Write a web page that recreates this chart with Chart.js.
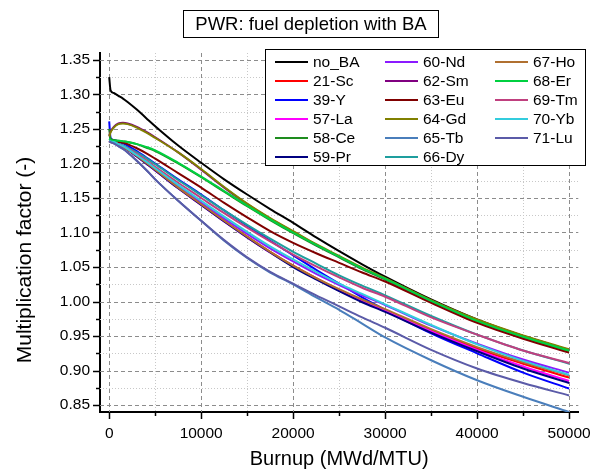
<!DOCTYPE html>
<html>
<head>
<meta charset="utf-8">
<script src="https://cdn.jsdelivr.net/npm/chart.js@4/dist/chart.umd.min.js"></script>
<style>
  html, body { margin: 0; padding: 0; background: #fff; }
  #wrap { width: 603px; height: 471px; }
</style>
</head>
<body>
<div id="wrap"><canvas id="c" width="603" height="471"></canvas></div>
<script>
const FONT = '"Liberation Sans", Arial, sans-serif';

// burnup grid (MWd/MTU)
const burnup = [0, 150, 500, 1000, 1500, 2000, 3000, 4000, 5000, 7500, 10000, 12500, 15000, 17500, 20000, 22500, 25000, 27500, 30000, 35000, 40000, 45000, 50000];

// multiplication factor per burnable absorber
const noBA = [1.325, 1.306, 1.302, 1.298, 1.294, 1.289, 1.278, 1.266, 1.254, 1.226, 1.201, 1.177, 1.155, 1.134, 1.114, 1.093, 1.073, 1.054, 1.036, 1.003, 0.974, 0.950, 0.930];
const sc21 = [1.233, 1.232, 1.231, 1.228, 1.224, 1.220, 1.211, 1.201, 1.191, 1.165, 1.141, 1.117, 1.094, 1.072, 1.052, 1.034, 1.017, 1.002, 0.988, 0.959, 0.932, 0.910, 0.890];
const y39 = [1.261, 1.237, 1.234, 1.232, 1.229, 1.226, 1.218, 1.209, 1.200, 1.177, 1.155, 1.132, 1.110, 1.088, 1.067, 1.046, 1.026, 1.006, 0.988, 0.954, 0.925, 0.897, 0.874];
const la57 = [1.233, 1.232, 1.231, 1.228, 1.224, 1.220, 1.210, 1.200, 1.190, 1.164, 1.140, 1.116, 1.093, 1.071, 1.051, 1.033, 1.016, 1.001, 0.987, 0.957, 0.930, 0.906, 0.885];
const ce58 = [1.250, 1.236, 1.234, 1.233, 1.232, 1.231, 1.228, 1.223, 1.218, 1.200, 1.180, 1.159, 1.138, 1.118, 1.099, 1.081, 1.064, 1.047, 1.032, 1.000, 0.971, 0.948, 0.928];
const pr59 = [1.233, 1.232, 1.231, 1.228, 1.224, 1.220, 1.210, 1.200, 1.190, 1.164, 1.140, 1.116, 1.093, 1.071, 1.050, 1.032, 1.015, 0.999, 0.985, 0.955, 0.928, 0.903, 0.882];
const nd60 = [1.233, 1.232, 1.231, 1.228, 1.225, 1.221, 1.212, 1.202, 1.192, 1.167, 1.143, 1.120, 1.098, 1.077, 1.058, 1.040, 1.024, 1.009, 0.995, 0.965, 0.939, 0.916, 0.897];
const sm62 = [1.240, 1.246, 1.253, 1.258, 1.259, 1.258, 1.253, 1.246, 1.238, 1.216, 1.191, 1.165, 1.141, 1.120, 1.101, 1.082, 1.065, 1.048, 1.033, 1.001, 0.973, 0.950, 0.930];
const eu63 = [1.233, 1.232, 1.232, 1.231, 1.230, 1.228, 1.222, 1.215, 1.207, 1.186, 1.165, 1.143, 1.122, 1.102, 1.085, 1.070, 1.056, 1.042, 1.029, 0.998, 0.969, 0.946, 0.926];
const gd64 = [1.239, 1.245, 1.252, 1.257, 1.258, 1.257, 1.252, 1.245, 1.237, 1.216, 1.192, 1.166, 1.142, 1.121, 1.102, 1.083, 1.066, 1.049, 1.034, 1.002, 0.974, 0.951, 0.931];
const tb65 = [1.232, 1.231, 1.229, 1.225, 1.221, 1.216, 1.204, 1.191, 1.177, 1.146, 1.117, 1.088, 1.063, 1.042, 1.025, 1.006, 0.988, 0.968, 0.948, 0.915, 0.886, 0.862, 0.840];
const dy66 = [1.232, 1.231, 1.230, 1.228, 1.226, 1.223, 1.216, 1.208, 1.199, 1.176, 1.154, 1.132, 1.111, 1.091, 1.072, 1.055, 1.038, 1.023, 1.009, 0.979, 0.952, 0.929, 0.910];
const ho67 = [1.233, 1.232, 1.231, 1.228, 1.224, 1.220, 1.211, 1.201, 1.191, 1.165, 1.141, 1.117, 1.094, 1.072, 1.052, 1.034, 1.018, 1.003, 0.989, 0.960, 0.934, 0.912, 0.893];
const er68 = [1.236, 1.234, 1.233, 1.233, 1.232, 1.231, 1.228, 1.224, 1.219, 1.201, 1.181, 1.160, 1.139, 1.119, 1.100, 1.082, 1.065, 1.048, 1.033, 1.001, 0.972, 0.949, 0.929];
const tm69 = [1.232, 1.231, 1.230, 1.228, 1.225, 1.222, 1.214, 1.205, 1.195, 1.172, 1.150, 1.128, 1.107, 1.087, 1.068, 1.051, 1.035, 1.020, 1.007, 0.977, 0.952, 0.929, 0.911];
const yb70 = [1.233, 1.232, 1.231, 1.228, 1.225, 1.221, 1.212, 1.203, 1.193, 1.169, 1.146, 1.123, 1.101, 1.080, 1.061, 1.043, 1.026, 1.011, 0.996, 0.966, 0.938, 0.914, 0.894];
const lu71 = [1.232, 1.231, 1.229, 1.225, 1.221, 1.216, 1.204, 1.191, 1.177, 1.146, 1.117, 1.089, 1.064, 1.043, 1.026, 1.009, 0.993, 0.977, 0.962, 0.930, 0.903, 0.882, 0.864];

const seriesNames = ['no_BA', '21-Sc', '39-Y', '57-La', '58-Ce', '59-Pr', '60-Nd', '62-Sm', '63-Eu', '64-Gd', '65-Tb', '66-Dy', '67-Ho', '68-Er', '69-Tm', '70-Yb', '71-Lu'];
const seriesValues = [noBA, sc21, y39, la57, ce58, pr59, nd60, sm62, eu63, gd64, tb65, dy66, ho67, er68, tm69, yb70, lu71];
const seriesColors = ['#000000', '#FF0000', '#0000FF', '#FF00FF', '#1E8C1E', '#000080', '#8B1AFF', '#800080', '#800000', '#808000', '#4A7EBB', '#1E9E9E', '#B07030', '#00D040', '#C0407F', '#33CCDD', '#5B5BA8'];

// axis ticks
const xMajor = [0, 10000, 20000, 30000, 40000, 50000];
const xMinor = [5000, 15000, 25000, 35000, 45000];
const yMajor = [0.85, 0.90, 0.95, 1.00, 1.05, 1.10, 1.15, 1.20, 1.25, 1.30, 1.35];
const yMinor = [0.875, 0.925, 0.975, 1.025, 1.075, 1.125, 1.175, 1.225, 1.275, 1.325];

const chartTitle = 'PWR: fuel depletion with BA';
const xTitle = 'Burnup (MWd/MTU)';
const yTitle = 'Multiplication factor (-)';

// grid lines, tick marks, legend box, title box and y title drawn by hand
const decorations = {
    id: 'decorations',
    beforeDatasetsDraw(chart) {
        const { ctx, chartArea: a, scales: { x, y } } = chart;
        ctx.save();
        ctx.lineWidth = 1;
        // minor grid - dotted light gray
        ctx.strokeStyle = '#c8c8c8';
        ctx.setLineDash([1, 2]);
        xMinor.forEach(v => {
            const px = Math.round(x.getPixelForValue(v)) + 0.5;
            ctx.beginPath(); ctx.moveTo(px, a.top); ctx.lineTo(px, a.bottom); ctx.stroke();
        });
        yMinor.forEach(v => {
            const py = Math.round(y.getPixelForValue(v)) + 0.5;
            ctx.beginPath(); ctx.moveTo(a.left, py); ctx.lineTo(a.right, py); ctx.stroke();
        });
        // major grid - dashed gray
        ctx.strokeStyle = '#8c8c8c';
        ctx.setLineDash([4, 3]);
        xMajor.forEach(v => {
            const px = Math.round(x.getPixelForValue(v)) + 0.5;
            ctx.beginPath(); ctx.moveTo(px, a.top); ctx.lineTo(px, a.bottom); ctx.stroke();
        });
        yMajor.forEach(v => {
            const py = Math.round(y.getPixelForValue(v)) + 0.5;
            ctx.beginPath(); ctx.moveTo(a.left, py); ctx.lineTo(a.right, py); ctx.stroke();
        });
        ctx.restore();
    },
    afterDraw(chart) {
        const { ctx, chartArea: a, scales: { x, y } } = chart;
        ctx.save();

        // tick marks (outside)
        ctx.strokeStyle = '#000';
        ctx.lineWidth = 1.5;
        ctx.setLineDash([]);
        const tickX = (list, len) => list.forEach(v => {
            const px = Math.round(x.getPixelForValue(v)) + 0.5;
            ctx.beginPath(); ctx.moveTo(px, a.bottom); ctx.lineTo(px, a.bottom + len); ctx.stroke();
        });
        const tickY = (list, len) => list.forEach(v => {
            const py = Math.round(y.getPixelForValue(v)) + 0.5;
            ctx.beginPath(); ctx.moveTo(a.left, py); ctx.lineTo(a.left - len, py); ctx.stroke();
        });
        tickX(xMajor, 7); tickX(xMinor, 4);
        tickY(yMajor, 7); tickY(yMinor, 4);

        // y axis title (sits a bit below the middle of the axis in the original)
        ctx.fillStyle = '#000';
        ctx.font = '21px ' + FONT;
        ctx.textAlign = 'center';
        ctx.textBaseline = 'middle';
        ctx.translate(25, 260);
        ctx.rotate(-Math.PI / 2);
        ctx.fillText(yTitle, 0, 0);
        ctx.setTransform(1, 0, 0, 1, 0, 0);

        // legend
        const lx = 265.5, ly = 49.5, lw = 320, lh = 116;
        ctx.fillStyle = '#fff';
        ctx.fillRect(lx, ly, lw, lh);
        ctx.strokeStyle = '#000';
        ctx.lineWidth = 1;
        ctx.strokeRect(lx, ly, lw, lh);
        ctx.font = '15.5px ' + FONT;
        ctx.textBaseline = 'middle';
        ctx.textAlign = 'left';
        chart.data.datasets.forEach((ds, i) => {
            const col = Math.floor(i / 6), row = i % 6;
            const x0 = 275 + col * 110, y0 = 62 + row * 19;
            ctx.strokeStyle = ds.borderColor;
            ctx.lineWidth = 2;
            ctx.beginPath(); ctx.moveTo(x0, y0); ctx.lineTo(x0 + 33, y0); ctx.stroke();
            ctx.fillStyle = '#000';
            ctx.fillText(ds.label, x0 + 38, y0 + 1);
        });

        // title box
        ctx.strokeStyle = '#000';
        ctx.lineWidth = 1;
        ctx.strokeRect(183.5, 10.5, 255, 27);
        ctx.font = '18.5px ' + FONT;
        ctx.textAlign = 'center';
        ctx.fillStyle = '#000';
        ctx.fillText(chartTitle, 311, 25);
        ctx.restore();
    }
};

const datasets = seriesNames.map((name, i) => ({
    label: name,
    data: burnup.map((b, j) => ({ x: b, y: seriesValues[i][j] })),
    borderColor: seriesColors[i],
    backgroundColor: seriesColors[i],
    borderWidth: 2,
    pointRadius: 0,
    cubicInterpolationMode: 'monotone',
    fill: false,
    order: seriesNames.length - i // later series on top, like the original plot
}));

new Chart(document.getElementById('c'), {
    type: 'line',
    data: { datasets: datasets },
    options: {
        responsive: false,
        animation: false,
        devicePixelRatio: 1,
        layout: { padding: { top: 53, right: 18, left: 0, bottom: 0 } },
        plugins: {
            legend: { display: false },
            tooltip: { enabled: false }
        },
        scales: {
            x: {
                type: 'linear',
                min: -1000,
                max: 51000,
                afterFit: (s) => { s.height = 59; },
                afterBuildTicks: (s) => { s.ticks = xMajor.map(v => ({ value: v })); },
                grid: { display: false, drawTicks: false },
                border: { display: true, color: '#000', width: 2 },
                ticks: {
                    color: '#000',
                    padding: 12,
                    maxRotation: 0,
                    autoSkip: false,
                    font: { family: FONT, size: 15.5 },
                    callback: (v) => String(v)
                },
                title: {
                    display: true,
                    text: xTitle,
                    color: '#000',
                    font: { family: FONT, size: 20 },
                    padding: { top: 0, bottom: 0 }
                }
            },
            y: {
                min: 0.84,
                max: 1.36,
                afterFit: (s) => { s.width = 100; },
                afterBuildTicks: (s) => { s.ticks = yMajor.map(v => ({ value: v })); },
                grid: { display: false, drawTicks: false },
                border: { display: true, color: '#000', width: 2 },
                ticks: {
                    color: '#000',
                    padding: 10,
                    autoSkip: false,
                    font: { family: FONT, size: 15.5 },
                    callback: (v) => v.toFixed(2)
                },
                title: { display: false }
            }
        }
    },
    plugins: [decorations]
});
</script>
</body>
</html>
